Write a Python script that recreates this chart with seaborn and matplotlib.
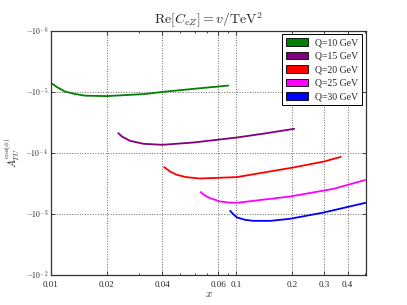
import numpy as np
import pandas as pd
import matplotlib
matplotlib.use('Agg')
import matplotlib.pyplot as plt
from matplotlib.patches import Patch
from matplotlib.ticker import FixedLocator, FuncFormatter, NullLocator
import seaborn as sns

# values (A is negative, plotted on a symlog axis)
x_q10 = [0.0102, 0.0108, 0.0119, 0.0135, 0.0153, 0.0200, 0.0322, 0.0396, 0.0600, 0.0908]
a_q10 = [-7.5e-6, -8.5e-6, -1.00e-5, -1.10e-5, -1.17e-5, -1.19e-5, -1.10e-5, -1.02e-5, -9.0e-6, -8.0e-6]

x_q15 = [0.0231, 0.0242, 0.0267, 0.0316, 0.0400, 0.0588, 0.101, 0.147, 0.206]
a_q15 = [-4.81e-5, -5.47e-5, -6.43e-5, -7.2e-5, -7.48e-5, -6.86e-5, -5.68e-5, -4.81e-5, -4.09e-5]

x_q20 = [0.0409, 0.044, 0.0478, 0.0537, 0.0638, 0.101, 0.204, 0.297, 0.368]
a_q20 = [-1.73e-4, -2.05e-4, -2.32e-4, -2.53e-4, -2.67e-4, -2.53e-4, -1.76e-4, -1.41e-4, -1.18e-4]

x_q25 = [0.0644, 0.0679, 0.0723, 0.082, 0.0906, 0.101, 0.196, 0.336, 0.497]
a_q25 = [-4.46e-4, -5.07e-4, -5.6e-4, -6.36e-4, -6.6e-4, -6.68e-4, -5.26e-4, -3.94e-4, -2.83e-4]

x_q30 = [0.0929, 0.0964, 0.101, 0.112, 0.124, 0.153, 0.196, 0.297, 0.50]
a_q30 = [-9.04e-4, -1.02e-3, -1.16e-3, -1.27e-3, -1.32e-3, -1.32e-3, -1.22e-3, -9.64e-4, -6.68e-4]

labels = ['Q=10 GeV', 'Q=15 GeV', 'Q=20 GeV', 'Q=25 GeV', 'Q=30 GeV']
colors = ['green', 'purple', 'red', 'magenta', 'blue']

xtick_pos = [0.01, 0.02, 0.04, 0.08, 0.1, 0.2, 0.3, 0.4]
xtick_lab = ['0.01', '0.02', '0.04', '0.06', '0.1', '0.2', '0.3', '0.4']
ytick_pos = [-1e-2, -1e-3, -1e-4, -1e-5, -1e-6]

frames = []
for lab, xs, ys in zip(labels, [x_q10, x_q15, x_q20, x_q25, x_q30],
                       [a_q10, a_q15, a_q20, a_q25, a_q30]):
    frames.append(pd.DataFrame({'x': xs, 'A': ys, 'Q': lab}))
df = pd.concat(frames, ignore_index=True)

sns.set_style('ticks')
plt.rcParams['font.family'] = ['Liberation Serif', 'DejaVu Serif']
plt.rcParams['mathtext.fontset'] = 'cm'
plt.rcParams['xtick.direction'] = 'in'
plt.rcParams['ytick.direction'] = 'in'

fig = plt.figure(figsize=(4.07, 3.05), dpi=100)
ax = fig.add_axes([0.125, 0.1, 0.775, 0.8])

sns.lineplot(data=df, x='x', y='A', hue='Q', palette=colors, sort=False,
             estimator=None, linewidth=1.3, legend=False, ax=ax)

ax.set_xscale('log')
ax.set_yscale('symlog', linthresh=1e-8)
ax.set_xlim(0.01, 0.505)
ax.set_ylim(-1e-2, -1e-6)

ax.xaxis.set_major_locator(FixedLocator(xtick_pos))
ax.set_xticklabels(xtick_lab)
ax.yaxis.set_major_locator(FixedLocator(ytick_pos))
ax.yaxis.set_major_formatter(FuncFormatter(
    lambda v, p: r'$-10^{%d}$' % int(round(np.log10(abs(v))))))
ax.yaxis.set_minor_locator(NullLocator())

ax.tick_params(which='both', top=True, right=True, width=0.6)
ax.tick_params(axis='x', labelsize=6.5, pad=4.5)
ax.tick_params(axis='y', labelsize=5.5, pad=2)
ax.tick_params(which='major', length=3)
ax.tick_params(which='minor', length=1.5)
ax.grid(True, which='major', linestyle=':', color='#666666', linewidth=0.7)
for s in ax.spines.values():
    s.set_linewidth(0.9)
    s.set_color('#333333')

ax.set_xlabel(r'$x$', fontsize=8, labelpad=1)
ax.set_ylabel(r'$A_{TU}^{\cos(\phi)}$', fontsize=7.5)
ax.yaxis.set_label_coords(-0.09, 0.5)
ax.set_title(r'$\mathrm{Re}[C_{eZ}]=v/\mathrm{TeV}^2$', fontsize=10, pad=4)

handles = [Patch(facecolor=c, edgecolor='black', linewidth=0.6) for c in colors]
leg = ax.legend(handles, labels, loc='upper right', fontsize=7, frameon=True,
                fancybox=False, edgecolor='black', framealpha=1,
                handlelength=2.2, handleheight=0.8, borderaxespad=0.4,
                labelspacing=0.45)
leg.get_frame().set_linewidth(0.7)

fig.savefig('out.png', dpi=100)
